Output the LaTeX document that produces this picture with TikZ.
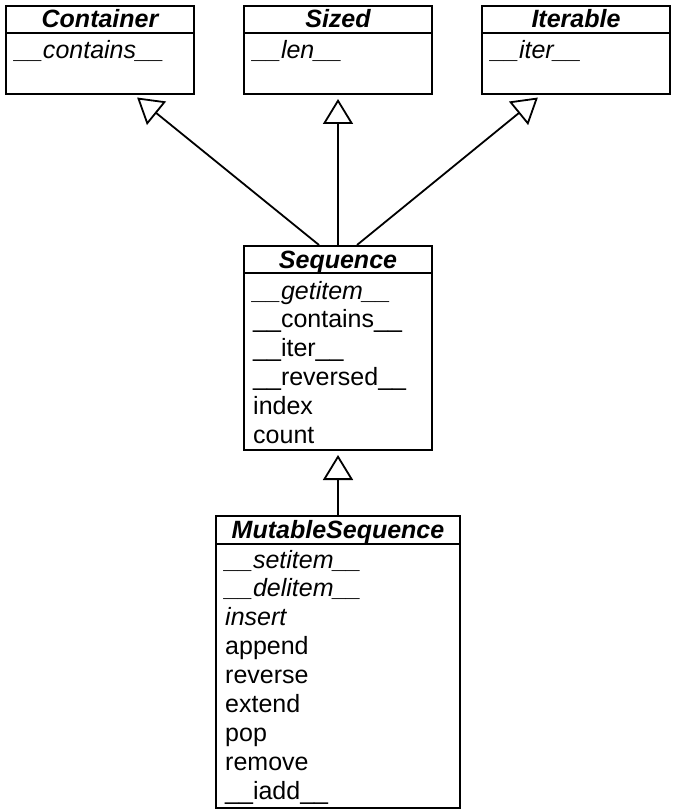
\documentclass[tikz,border=0pt]{standalone}
\usepackage{fontspec}
\setmainfont{Liberation Sans}
\usetikzlibrary{arrows.meta}
\tikzset{
  cls/.style={draw, line width=2pt, rectangle, inner sep=0pt, anchor=north west},
  divider/.style={line width=2pt},
  ttl/.style={font=\bfseries\itshape\fontsize{25}{30}\selectfont, anchor=base, inner sep=0pt},
  row/.style={font=\fontsize{25}{30}\selectfont, anchor=base west, inner sep=0pt},
  inh/.style={line width=1.8pt, -{Triangle[open, length=25pt, width=30pt]}, shorten >=4pt},
}
\begin{document}
\begin{tikzpicture}[x=1pt, y=-1pt]
\useasboundingbox (0,0) rectangle (672,810);
% class boxes
\node[cls, minimum width=188pt, minimum height=88pt] (container) at (5,5) {};
\node[cls, minimum width=188pt, minimum height=88pt] (sized) at (243,5) {};
\node[cls, minimum width=188pt, minimum height=88pt] (iterable) at (481,5) {};
\node[cls, minimum width=188pt, minimum height=204pt] (seq) at (243,245) {};
\node[cls, minimum width=244pt, minimum height=292pt] (mut) at (215,515) {};
% dividers
\foreach \b in {container,sized,iterable,seq}
  \draw[divider] ([yshift=-28pt]\b.north west) -- ([yshift=-28pt]\b.north east);
\draw[divider] ([yshift=-29pt]mut.north west) -- ([yshift=-29pt]mut.north east);
% titles
\node[ttl] (containerT) at ([yshift=-23pt]container.north) {Container};
\node[ttl] (sizedT) at ([yshift=-23pt]sized.north) {Sized};
\node[ttl] (iterableT) at ([yshift=-23pt]iterable.north) {Iterable};
\node[ttl] (seqT) at ([yshift=-23pt]seq.north) {Sequence};
\node[ttl] (mutT) at ([yshift=-23pt]mut.north) {MutableSequence};
% members
\node[row] (containerR1) at ([xshift=10pt,yshift=-54pt]container.north west) {\textit{\_\_contains\_\_}};
\node[row] (sizedR1) at ([xshift=10pt,yshift=-54pt]sized.north west) {\textit{\_\_len\_\_}};
\node[row] (iterableR1) at ([xshift=10pt,yshift=-54pt]iterable.north west) {\textit{\_\_iter\_\_}};
\foreach \t [count=\i] in {\textit{\_\_getitem\_\_}, \_\_contains\_\_, \_\_iter\_\_, \_\_reversed\_\_, index, count}
  \node[row] (seqR\i) at ([xshift=10pt,yshift={-(54+28.8*(\i-1))*1pt}]seq.north west) {\t};
\foreach \t [count=\i] in {\textit{\_\_setitem\_\_}, \textit{\_\_delitem\_\_}, \textit{insert}, append, reverse, extend, pop, remove, \_\_iadd\_\_}
  \node[row] (mutR\i) at ([xshift=10pt,yshift={-(53+28.9*(\i-1))*1pt}]mut.north west) {\t};
% inheritance
\draw[inh] ([xshift=-19pt]seq.north) -- ([xshift=34pt]container.south);
\draw[inh] (seq.north) -- (sized.south);
\draw[inh] ([xshift=19pt]seq.north) -- ([xshift=-35pt]iterable.south);
\draw[inh] (mut.north) -- (seq.south);
\end{tikzpicture}
\end{document}
